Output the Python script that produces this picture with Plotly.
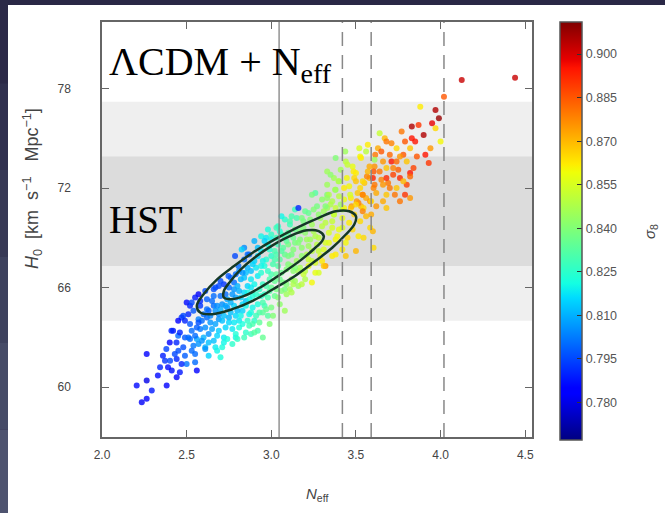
"""
H0 vs N_eff scatter coloured by sigma_8, with HST bands and 68/95% contours
"""

import plotly.graph_objects as go

# ---- data: (N_eff, H0, sigma_8) ----
tail_pts = [
    (2.235, 59.1, 0.782), (2.264, 59.3, 0.785), (2.205, 60.1, 0.786), (2.264, 60.4, 0.780),
    (2.294, 59.8, 0.788), (2.382, 60.1, 0.783), (2.264, 62.0, 0.784), (2.343, 61.2, 0.790),
    (2.372, 61.6, 0.792), (2.412, 61.0, 0.787), (2.441, 60.6, 0.784), (2.402, 61.6, 0.795),
    (2.441, 61.7, 0.790), (2.451, 62.2, 0.796), (2.490, 61.9, 0.798), (2.550, 61.5, 0.800),
    (2.560, 61.0, 0.785), (2.460, 60.9, 0.788), (2.420, 63.4, 0.788), (2.400, 62.7, 0.785),
    (2.440, 62.7, 0.790), (2.480, 62.4, 0.796), (2.500, 65.1, 0.786), (2.510, 64.4, 0.790),
    (2.480, 64.3, 0.795), (2.530, 63.4, 0.800), (2.570, 65.6, 0.782), (2.520, 63.8, 0.797),
    (2.470, 64.2, 0.793), (2.410, 63.4, 0.790), (2.450, 63.1, 0.800), (2.380, 62.3, 0.794),
    (2.330, 60.7, 0.786), (2.500, 61.4, 0.802), (2.520, 62.9, 0.800), (2.360, 61.9, 0.789),
    (2.450, 64.0, 0.785), (2.430, 62.0, 0.795), (2.460, 63.3, 0.790), (2.490, 63.0, 0.797),
    (2.470, 61.4, 0.790), (2.390, 61.2, 0.786), (2.540, 62.5, 0.802), (2.520, 64.9, 0.790),
    (2.550, 65.4, 0.788), (2.580, 65.2, 0.790), (2.490, 64.0, 0.790),
]

low_core_pts = [
    (2.56, 62.9, 0.808), (2.61, 62.4, 0.810), (2.67, 62.4, 0.818), (2.71, 62.4, 0.822),
    (2.77, 62.6, 0.825), (2.79, 63.0, 0.820), (2.63, 63.2, 0.805), (2.59, 64.0, 0.800),
    (2.63, 64.6, 0.798), (2.67, 63.8, 0.808), (2.73, 63.6, 0.815), (2.69, 64.4, 0.805),
    (2.75, 64.2, 0.810), (2.81, 64.0, 0.818), (2.83, 64.6, 0.815), (2.65, 65.2, 0.800),
    (2.71, 65.0, 0.805), (2.61, 65.8, 0.795), (2.67, 66.0, 0.795), (2.73, 65.6, 0.800),
    (2.79, 65.4, 0.808), (2.85, 65.2, 0.812), (2.53, 65.1, 0.795), (2.57, 64.1, 0.803),
    (2.69, 64.1, 0.806), (2.55, 62.0, 0.800), (2.61, 62.3, 0.806), (2.72, 62.7, 0.820),
    (2.58, 63.5, 0.802), (2.60, 63.0, 0.810), (2.54, 64.6, 0.797), (2.62, 65.3, 0.798),
    (2.66, 64.9, 0.800), (2.70, 65.5, 0.800), (2.64, 63.9, 0.806), (2.58, 64.9, 0.792),
    (2.74, 64.8, 0.806), (2.77, 63.5, 0.818), (2.68, 63.1, 0.815), (2.62, 64.2, 0.800),
    (2.56, 63.6, 0.798), (2.72, 66.2, 0.792), (2.76, 66.6, 0.800), (2.69, 66.1, 0.795),
    (2.78, 65.9, 0.806), (2.80, 64.6, 0.812), (2.75, 63.9, 0.815), (2.66, 62.8, 0.812),
    (2.51, 63.0, 0.800), (2.63, 61.9, 0.815), (2.70, 61.8, 0.822), (2.57, 62.6, 0.806),
]

mid_pts = [
    (2.85, 63.3, 0.825), (2.88, 63.2, 0.828), (2.92, 63.4, 0.830), (2.98, 64.3, 0.832),
    (2.87, 64.4, 0.820), (2.90, 64.0, 0.825), (2.92, 65.0, 0.822), (2.96, 65.6, 0.826),
    (3.00, 66.0, 0.835), (2.89, 64.8, 0.820), (2.86, 64.0, 0.825), (2.90, 63.3, 0.832),
    (2.79, 63.2, 0.823), (2.94, 65.5, 0.825), (3.02, 65.5, 0.835), (3.08, 65.9, 0.838),
    (2.96, 64.9, 0.828), (2.88, 64.5, 0.822), (2.98, 65.4, 0.830), (3.06, 65.8, 0.840),
    (2.79, 66.8, 0.800), (2.786, 67.9, 0.795), (2.806, 67.3, 0.800), (2.747, 66.7, 0.797),
    (2.84, 68.4, 0.805), (2.87, 68.0, 0.800), (2.90, 68.8, 0.810), (2.825, 68.3, 0.815),
    (2.94, 69.1, 0.820), (2.98, 69.5, 0.822), (3.04, 69.7, 0.825), (2.86, 67.2, 0.810),
    (2.90, 67.6, 0.815), (2.94, 68.2, 0.818), (2.82, 66.5, 0.810), (2.86, 66.1, 0.815),
    (2.92, 66.7, 0.818), (2.96, 67.3, 0.822), (3.00, 67.9, 0.825), (3.04, 68.6, 0.828),
    (2.84, 65.7, 0.816), (2.90, 66.2, 0.820), (2.95, 66.2, 0.826), (3.00, 66.8, 0.830),
    (3.04, 67.3, 0.832), (3.08, 68.0, 0.835), (2.98, 68.6, 0.822), (2.88, 67.0, 0.812),
    (2.92, 67.9, 0.816), (3.02, 68.2, 0.830), (3.06, 69.2, 0.830), (3.10, 68.6, 0.838),
    (3.02, 66.4, 0.835), (3.06, 66.9, 0.836), (3.10, 67.4, 0.840), (3.12, 66.5, 0.845),
    (3.05, 65.0, 0.842), (2.99, 63.8, 0.840), (2.93, 64.5, 0.830), (3.00, 64.8, 0.838),
    (2.83, 63.8, 0.822), (2.95, 63.0, 0.835), (3.08, 64.6, 0.845), (2.84, 67.7, 0.800),
    (2.81, 67.0, 0.805), (2.78, 66.3, 0.800), (2.97, 69.0, 0.818), (3.00, 69.2, 0.826),
]

inner_pts = [
    (2.62, 64.7, 0.800), (2.66, 65.5, 0.800), (2.70, 64.7, 0.810), (2.74, 65.3, 0.808),
    (2.78, 64.9, 0.815), (2.82, 65.4, 0.815), (2.86, 65.7, 0.820), (2.80, 66.1, 0.810),
    (2.84, 66.6, 0.812), (2.88, 66.5, 0.818), (2.91, 67.2, 0.818), (2.94, 66.9, 0.824),
    (2.97, 67.7, 0.824), (3.01, 67.4, 0.830), (3.03, 68.0, 0.830), (3.07, 68.4, 0.833),
    (3.05, 67.7, 0.833), (3.09, 67.1, 0.840), (3.13, 68.3, 0.840), (3.15, 67.6, 0.845),
    (3.17, 68.9, 0.840), (3.21, 68.0, 0.848), (3.23, 68.9, 0.845), (3.27, 68.6, 0.850),
    (3.19, 69.6, 0.840), (3.13, 69.0, 0.836), (3.09, 68.8, 0.834), (3.03, 69.0, 0.828),
    (2.99, 68.3, 0.824), (2.95, 67.6, 0.820), (2.89, 67.4, 0.815), (2.85, 66.9, 0.812),
    (2.99, 66.5, 0.830), (2.93, 65.9, 0.826), (2.89, 65.5, 0.822), (2.97, 66.1, 0.830),
    (3.05, 66.5, 0.836), (3.09, 66.2, 0.840), (3.13, 67.0, 0.842), (3.17, 67.2, 0.846),
    (3.11, 65.9, 0.845), (3.03, 65.9, 0.838), (2.95, 64.5, 0.833), (2.91, 64.3, 0.828),
    (2.83, 65.0, 0.816), (2.76, 65.1, 0.810), (2.72, 64.3, 0.812), (2.68, 64.9, 0.805),
    (2.81, 63.6, 0.822), (2.87, 63.7, 0.828),
]

fill_pts = [
    (2.53, 62.2, 0.800), (2.55, 63.1, 0.800), (2.57, 63.9, 0.796), (2.59, 62.8, 0.806),
    (2.60, 64.4, 0.800), (2.61, 63.6, 0.805), (2.63, 62.7, 0.812), (2.64, 64.3, 0.804),
    (2.65, 63.5, 0.808), (2.66, 65.9, 0.796), (2.67, 64.6, 0.806), (2.68, 62.2, 0.820),
    (2.69, 63.4, 0.814), (2.70, 66.4, 0.795), (2.71, 64.0, 0.812), (2.72, 63.0, 0.818),
    (2.73, 64.9, 0.808), (2.74, 62.9, 0.822), (2.75, 66.0, 0.800), (2.76, 64.5, 0.812),
    (2.77, 65.6, 0.806), (2.78, 63.9, 0.818), (2.79, 64.3, 0.816), (2.80, 62.9, 0.826),
    (2.81, 65.8, 0.810), (2.82, 64.3, 0.820), (2.83, 66.9, 0.806), (2.84, 63.0, 0.828),
    (2.85, 64.9, 0.820), (2.86, 68.0, 0.800), (2.87, 65.3, 0.820), (2.88, 66.0, 0.818),
    (2.89, 63.8, 0.830), (2.91, 65.6, 0.825), (2.92, 68.4, 0.812), (2.93, 63.9, 0.834),
    (2.94, 67.3, 0.820), (2.95, 65.1, 0.830), (2.96, 68.8, 0.815), (2.97, 64.7, 0.835),
    (2.98, 67.0, 0.826), (2.99, 65.8, 0.832), (3.00, 68.9, 0.820), (3.01, 64.3, 0.840),
    (3.02, 67.7, 0.830), (3.03, 66.8, 0.834), (3.04, 65.4, 0.840), (3.05, 69.4, 0.824),
    (3.06, 68.2, 0.832), (3.07, 66.3, 0.838), (3.08, 69.0, 0.830), (3.09, 65.6, 0.845),
    (3.10, 67.9, 0.838), (3.11, 69.8, 0.828), (3.12, 67.3, 0.842), (3.13, 66.2, 0.848),
    (3.14, 68.7, 0.838), (3.15, 70.2, 0.830), (3.16, 67.0, 0.846), (3.17, 69.4, 0.840),
    (3.18, 68.4, 0.842), (3.19, 66.8, 0.852), (3.20, 70.6, 0.835), (3.21, 68.9, 0.845),
    (3.22, 67.7, 0.852), (3.23, 70.1, 0.840), (3.24, 68.2, 0.850), (3.25, 69.4, 0.847),
    (3.26, 66.9, 0.858), (3.27, 70.9, 0.838), (3.28, 69.0, 0.850), (3.29, 67.9, 0.856),
    (3.30, 71.3, 0.842), (3.31, 68.3, 0.856), (3.32, 69.9, 0.850), (3.33, 72.2, 0.845),
    (3.34, 68.7, 0.858), (3.35, 71.0, 0.848), (3.36, 69.6, 0.855), (3.37, 72.6, 0.846),
    (3.38, 70.8, 0.852), (3.39, 69.1, 0.860), (3.40, 71.5, 0.850), (3.41, 73.1, 0.846),
    (3.42, 70.2, 0.858), (3.43, 71.3, 0.858), (3.44, 73.6, 0.850), (3.45, 69.0, 0.865),
    (3.46, 72.1, 0.860), (3.47, 71.4, 0.862), (3.48, 73.3, 0.858), (3.49, 70.4, 0.866),
    (3.50, 72.9, 0.862), (3.51, 71.7, 0.868), (3.52, 74.4, 0.855), (3.53, 70.9, 0.870),
    (3.55, 72.3, 0.868), (3.56, 71.4, 0.872), (3.57, 74.6, 0.862), (3.58, 72.6, 0.872),
    (3.59, 70.4, 0.872), (3.61, 73.3, 0.876), (3.62, 70.9, 0.875), (3.63, 74.4, 0.872),
    (3.65, 72.5, 0.878), (3.66, 71.2, 0.872), (3.67, 75.0, 0.870), (3.69, 72.3, 0.880),
    (3.71, 74.7, 0.878), (3.73, 71.6, 0.880), (3.75, 73.1, 0.884), (3.77, 75.4, 0.880),
    (3.80, 72.2, 0.888), (3.84, 73.2, 0.888), (3.87, 75.8, 0.890), (3.91, 74.0, 0.895),
    (3.95, 75.9, 0.898),
]

upper_mid_pts = [
    (3.14, 70.7, 0.828), (3.11, 70.0, 0.830), (3.03, 69.6, 0.828), (3.16, 70.8, 0.790),
    (3.19, 70.0, 0.838), (3.25, 70.7, 0.840), (3.29, 70.2, 0.845), (3.33, 70.8, 0.845),
    (3.37, 70.4, 0.850), (3.26, 71.7, 0.832), (3.33, 71.6, 0.840), (3.38, 71.9, 0.842),
    (3.40, 72.4, 0.845), (3.24, 71.6, 0.838), (3.34, 71.6, 0.848), (3.35, 72.8, 0.842),
    (3.38, 73.8, 0.840), (3.16, 66.1, 0.845), (3.20, 66.5, 0.848), (3.28, 66.9, 0.855),
    (3.32, 67.3, 0.875), (3.30, 67.6, 0.862), (3.36, 67.9, 0.862), (3.22, 67.3, 0.858),
    (3.14, 66.4, 0.845), (3.31, 67.3, 0.868), (3.14, 67.2, 0.840), (3.18, 67.9, 0.842),
    (3.22, 68.5, 0.845), (3.26, 69.1, 0.848), (3.30, 69.7, 0.850), (3.12, 68.0, 0.838),
    (3.16, 68.7, 0.840), (3.20, 69.3, 0.842), (3.24, 69.8, 0.845), (3.14, 69.5, 0.836),
    (3.18, 70.2, 0.838), (3.10, 69.3, 0.832), (3.22, 70.5, 0.835), (3.28, 68.2, 0.852),
    (3.24, 67.6, 0.852), (3.32, 68.7, 0.855), (3.34, 69.3, 0.855), (3.36, 70.0, 0.852),
    (3.20, 67.0, 0.850), (3.26, 67.5, 0.855), (3.18, 66.2, 0.850), (3.12, 65.7, 0.848),
    (3.24, 66.3, 0.860), (3.28, 70.4, 0.842), (3.12, 70.3, 0.830), (3.08, 70.1, 0.825),
    (3.06, 70.3, 0.820),
]

high_pts = [
    (3.42, 68.3, 0.862), (3.44, 68.7, 0.860), (3.515, 69.1, 0.862), (3.475, 70.9, 0.875),
    (3.515, 71.1, 0.878), (3.42, 70.7, 0.848), (3.32, 70.9, 0.840), (3.437, 74.2, 0.845),
    (3.525, 73.9, 0.860), (3.614, 74.0, 0.880), (3.604, 73.0, 0.885), (3.565, 72.7, 0.878),
    (3.486, 73.0, 0.862), (3.446, 72.6, 0.860), (3.397, 72.4, 0.848), (3.377, 71.9, 0.846),
    (3.505, 71.2, 0.875), (3.545, 70.8, 0.865), (3.584, 71.2, 0.878), (3.604, 72.0, 0.878),
    (3.525, 72.0, 0.865), (3.466, 71.6, 0.855), (3.43, 70.8, 0.860), (3.525, 70.0, 0.865),
    (3.584, 69.6, 0.865), (3.545, 69.0, 0.865), (3.604, 68.4, 0.865), (3.60, 69.4, 0.870),
    (3.49, 72.6, 0.865), (3.45, 73.4, 0.852), (3.33, 73.0, 0.845), (3.43, 72.0, 0.862),
    (3.54, 71.6, 0.875), (3.59, 71.2, 0.865), (3.50, 71.0, 0.865), (3.47, 70.8, 0.868),
    (3.41, 71.0, 0.845), (3.33, 71.4, 0.843), (3.31, 70.6, 0.845), (3.37, 70.4, 0.852),
    (3.54, 70.6, 0.878), (3.40, 69.5, 0.858), (3.46, 69.9, 0.862), (3.38, 68.9, 0.860),
    (3.48, 69.5, 0.865), (3.44, 67.9, 0.868), (3.50, 68.2, 0.870), (3.56, 70.3, 0.870),
    (3.42, 69.6, 0.855), (3.38, 68.0, 0.862), (3.36, 71.2, 0.848), (3.50, 72.4, 0.868),
]

top_pts = [
    (4.125, 78.5, 0.902), (4.44, 78.64, 0.902), (4.02, 77.5, 0.885), (3.88, 76.9, 0.862),
    (3.97, 76.7, 0.905), (3.99, 76.2, 0.908), (3.97, 75.6, 0.865), (3.83, 75.7, 0.905),
    (3.90, 75.2, 0.905), (3.83, 75.0, 0.895), (3.79, 74.8, 0.885), (3.85, 74.8, 0.895),
    (3.68, 74.8, 0.880), (3.64, 75.3, 0.852), (3.56, 74.2, 0.850), (3.53, 73.8, 0.862),
    (3.61, 73.7, 0.845), (3.65, 74.2, 0.885), (3.74, 74.4, 0.865), (3.78, 74.0, 0.885),
    (3.82, 74.4, 0.868), (3.94, 74.4, 0.875), (4.00, 74.8, 0.860), (3.70, 74.0, 0.882),
    (3.71, 73.6, 0.895), (3.74, 73.6, 0.882), (3.80, 73.6, 0.868), (3.93, 73.5, 0.890),
    (3.82, 72.9, 0.895), (3.82, 72.7, 0.882), (3.68, 73.2, 0.868), (3.64, 73.0, 0.880),
    (3.60, 72.6, 0.893), (3.68, 72.6, 0.892), (3.76, 72.6, 0.892), (3.54, 72.4, 0.865),
    (3.61, 72.2, 0.880), (3.70, 72.0, 0.880), (3.74, 72.0, 0.868), (3.78, 72.4, 0.870),
    (3.54, 71.6, 0.878), (3.68, 71.6, 0.868), (3.76, 71.2, 0.880), (3.82, 71.4, 0.875),
    (3.68, 70.8, 0.868), (3.79, 71.6, 0.890), (3.66, 73.6, 0.875), (3.72, 73.2, 0.878),
    (3.58, 73.3, 0.872), (3.62, 71.7, 0.872), (3.57, 73.0, 0.870), (3.76, 73.9, 0.875),
    (3.86, 73.9, 0.885), (3.66, 72.2, 0.875), (3.72, 72.8, 0.888),
]

# 95% and 68% contours (N_eff, H0)
contour_95 = [
    (3.50, 70.3), (3.46, 70.6), (3.38, 70.6), (3.28, 70.2), (3.15, 69.6), (3.02, 68.9),
    (2.89, 68.1), (2.78, 67.3), (2.68, 66.5), (2.60, 65.6), (2.56, 64.9), (2.58, 64.5),
    (2.65, 64.4), (2.77, 64.7), (2.89, 65.2), (3.01, 65.9), (3.14, 66.7), (3.26, 67.6),
    (3.36, 68.4), (3.44, 69.2), (3.49, 69.8), (3.50, 70.3),
]
contour_68 = [
    (3.31, 69.1), (3.28, 69.4), (3.21, 69.45), (3.11, 69.1), (3.00, 68.5), (2.90, 67.8),
    (2.82, 67.1), (2.76, 66.4), (2.72, 65.8), (2.72, 65.4), (2.76, 65.3), (2.84, 65.5),
    (2.95, 66.1), (3.07, 66.9), (3.18, 67.7), (3.26, 68.4), (3.30, 68.8), (3.31, 69.1),
]

hst_1sigma = (67.3, 73.9)
hst_2sigma = (64.0, 77.2)
neff_standard = 3.046
neff_dashed = [3.42, 3.59, 4.02]

x_ticks = [2.0, 2.5, 3.0, 3.5, 4.0, 4.5]
y_ticks = [60, 66, 72, 78]
cbar_ticks = [0.780, 0.795, 0.810, 0.825, 0.840, 0.855, 0.870, 0.885, 0.900]

# matplotlib "jet"
jet = [
    [0.0, "rgb(0,0,128)"], [0.11, "rgb(0,0,255)"], [0.125, "rgb(0,0,255)"],
    [0.34, "rgb(0,219,255)"], [0.375, "rgb(20,255,226)"], [0.5, "rgb(123,255,123)"],
    [0.64, "rgb(239,255,8)"], [0.66, "rgb(255,236,0)"], [0.89, "rgb(255,19,0)"],
    [0.91, "rgb(232,0,0)"], [1.0, "rgb(128,0,0)"],
]

points = (tail_pts + low_core_pts + mid_pts + inner_pts + fill_pts
          + upper_mid_pts + high_pts + top_pts)

fig = go.Figure()

fig.add_trace(go.Scatter(
    x=[p[0] for p in points],
    y=[p[1] for p in points],
    mode='markers',
    marker=dict(
        size=6,
        color=[p[2] for p in points],
        colorscale=jet,
        cmin=0.767, cmax=0.911,
        opacity=0.8,
        line=dict(width=0),
        colorbar=dict(
            thickness=22, len=418, lenmode='pixels',
            x=1.065, xanchor='left', xpad=0,
            y=0.496, yanchor='middle', ypad=0,
            outlinewidth=1.5, outlinecolor='#555',
            tickvals=cbar_ticks,
            ticktext=[f"{v:.3f}" for v in cbar_ticks],
            ticks='inside', ticklen=5, tickcolor='#333',
            tickfont=dict(family='Liberation Sans', size=12.5, color='#555'),
        ),
    ),
    showlegend=False,
    hoverinfo='skip',
))

for cont in (contour_95, contour_68):
    fig.add_trace(go.Scatter(
        x=[c[0] for c in cont], y=[c[1] for c in cont],
        mode='lines', line=dict(color='#143826', width=2.5, shape='spline'),
        showlegend=False, hoverinfo='skip',
    ))

# white slide panel over the dark frame, then HST bands
slide_shapes = [
    dict(type='rect', xref='paper', yref='paper', x0=-0.2186, x1=1.4, y0=-0.3, y1=1.041,
         fillcolor='white', line_width=0, layer='below'),
    dict(type='rect', xref='paper', yref='y', x0=0, x1=1, y0=hst_2sigma[0], y1=hst_2sigma[1],
         fillcolor='#efefef', line_width=0, layer='below'),
    dict(type='rect', xref='paper', yref='y', x0=0, x1=1, y0=hst_1sigma[0], y1=hst_1sigma[1],
         fillcolor='#dcdcdc', line_width=0, layer='below'),
]
strip_colors = ['#2b2947', '#30304e', '#373955', '#3e425e', '#464b67', '#4e536f']
for i, col in enumerate(strip_colors):
    y_top = 1.06 - i * (1.06 + 0.19) / len(strip_colors)
    y_bot = 1.06 - (i + 1) * (1.06 + 0.19) / len(strip_colors)
    slide_shapes.append(dict(type='rect', xref='paper', yref='paper', x0=-0.24, x1=-0.2186,
                             y0=y_bot, y1=y_top, fillcolor=col, line_width=0, layer='below'))
for shp in slide_shapes:
    fig.add_shape(**shp)

fig.add_shape(type='line', xref='x', yref='paper', x0=neff_standard, x1=neff_standard,
              y0=0, y1=1, line=dict(color='#777', width=1.2))
for xv in neff_dashed:
    fig.add_shape(type='line', xref='x', yref='paper', x0=xv, x1=xv, y0=0, y1=1,
                  line=dict(color='#888', width=1.5, dash='14px,9px'))

nb = '\u00a0'
fig.add_annotation(text="ΛCDM + N<sub>eff</sub>", xref='paper', yref='paper',
                   x=0.012, y=0.964, xanchor='left', yanchor='top', showarrow=False,
                   font=dict(family='Liberation Serif', size=40, color='black'))
fig.add_annotation(text="HST", xref='paper', yref='paper',
                   x=0.012, y=0.523, xanchor='left', yanchor='middle', showarrow=False,
                   font=dict(family='Liberation Serif', size=39, color='black'))
fig.add_annotation(text=f"<i>H</i><sub>0</sub>{nb}{nb}[km{nb}{nb}s<sup>−1</sup>{nb}{nb}{nb}Mpc<sup>−1</sup>]",
                   xref='paper', yref='paper', x=-0.163, y=0.6, textangle=-90,
                   xanchor='center', yanchor='middle',
                   showarrow=False, font=dict(family='Liberation Sans', size=18, color='#444'))
fig.add_annotation(text="<i>N</i><sub>eff</sub>", xref='paper', yref='paper',
                   x=0.5, y=-0.138, xanchor='center', yanchor='middle', showarrow=False,
                   font=dict(family='Liberation Sans', size=15, color='#444'))
fig.add_annotation(text="<i>σ</i><sub>8</sub>", xref='paper', yref='paper',
                   x=1.277, y=0.494, textangle=-90, xanchor='center', yanchor='middle',
                   showarrow=False,
                   font=dict(family='Liberation Sans', size=15, color='#444'))

axis_style = dict(
    showgrid=False, zeroline=False, showline=True, linecolor='#666', linewidth=1.5,
    mirror='allticks', ticks='inside', ticklen=7, tickcolor='#666', automargin=False,
    tickfont=dict(family='Liberation Sans', size=12, color='#444'),
)
fig.update_xaxes(range=[2.0, 4.54], tickvals=x_ticks, ticklabelstandoff=6,
                 ticktext=[f"{v:.1f}" for v in x_ticks], **axis_style)
fig.update_yaxes(range=[57.0, 82.0], tickvals=y_ticks, ticklabelstandoff=27, **axis_style)

fig.update_layout(
    width=665, height=513,
    margin=dict(l=102, r=133, t=22, b=76, autoexpand=False),
    paper_bgcolor='#2a2846',
    plot_bgcolor='white',
)

# the page body has a default 8px margin; drop it so the figure sits at 0,0
fig.write_html("out.html", config={'displayModeBar': False},
               post_script="document.body.style.margin='0';document.body.style.background='#2a2846';")
